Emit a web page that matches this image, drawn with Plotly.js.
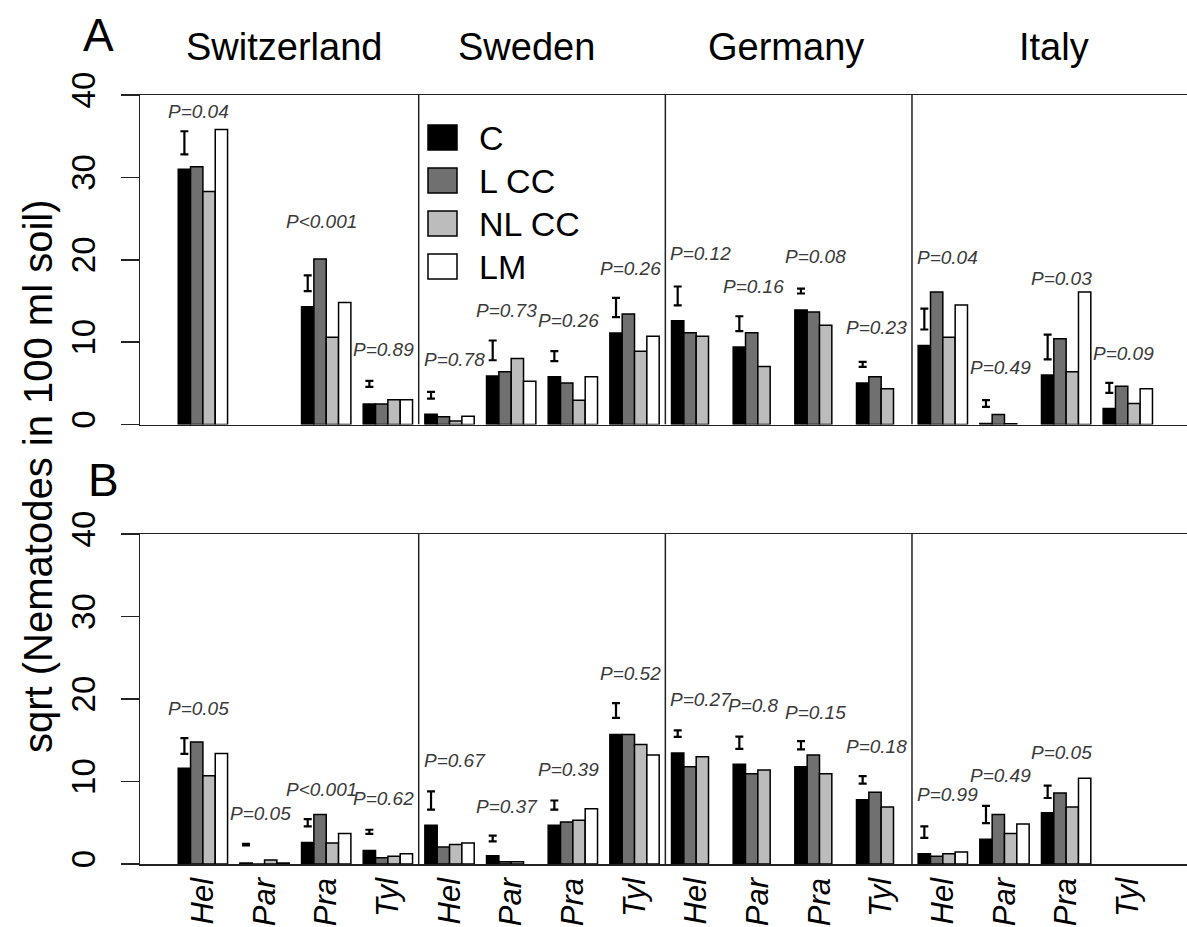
<!DOCTYPE html>
<html>
<head>
<meta charset="utf-8">
<script src="https://cdn.plot.ly/plotly-3.0.1.min.js"></script>
<style>html,body{margin:0;padding:0;background:#fff;}#chart{width:1187px;height:927px;}</style>
</head>
<body>
<div id="chart"></div>
<script>
// ---------------- data ----------------
const countries = ['Switzerland', 'Sweden', 'Germany', 'Italy'];
const nematodes = ['Hel', 'Par', 'Pra', 'Tyl'];
const treatments = ['C', 'L CC', 'NL CC', 'LM'];
const treatColors = ['#000000', '#707070', '#bcbcbc', '#ffffff'];

// Panel A (order: Switzerland Hel..Tyl, Sweden, Germany, Italy)
const A_C    = [31.0, null, 14.3, 2.5, 1.25, 5.9, 5.8, 11.1, 12.6, 9.4, 13.9, 5.05, 9.6, 0.12, 6.0, 1.95];
const A_LCC  = [31.3, null, 20.1, 2.5, 0.93, 6.4, 5.05, 13.4, 11.15, 11.15, 13.65, 5.8, 16.1, 1.2, 10.4, 4.65];
const A_NLCC = [28.3, null, 10.6, 3.0, 0.44, 8.0, 2.95, 8.9, 10.7, 7.05, 12.05, 4.35, 10.6, 0.1, 6.4, 2.55];
const A_LM   = [35.8, null, 14.8, 3.0, 1.0, 5.25, 5.8, 10.7, null, null, null, null, 14.5, null, 16.1, 4.35];
const A_errMid  = [34.2, null, 17.15, 4.93, 3.55, 9.0, 8.3, 14.2, 15.6, 12.24, 16.2, 7.3, 12.8, 2.55, 9.4, 4.45];
const A_errHalf = [1.4, null, 0.95, 0.37, 0.4, 1.2, 0.6, 1.17, 1.15, 0.9, 0.3, 0.3, 1.27, 0.4, 1.5, 0.6];
const A_pText = ['P=0.04', null, 'P<0.001', 'P=0.89', 'P=0.78', 'P=0.73', 'P=0.26', 'P=0.26',
                 'P=0.12', 'P=0.16', 'P=0.08', 'P=0.23', 'P=0.04', 'P=0.49', 'P=0.03', 'P=0.09'];
const A_pY = [38.0, null, 24.7, 9.1, 7.9, 13.85, 12.6, 18.95, 20.8, 16.8, 20.4, 11.8, 20.3, 6.95, 17.7, 8.6];

// Panel B
const B_C    = [11.6, 0.12, 2.6, 1.65, 4.7, 1.0, 4.7, 15.7, 13.45, 12.1, 11.8, 7.8, 1.25, 3.0, 6.2, null];
const B_LCC  = [14.8, 0, 6.0, 0.75, 2.05, 0.28, 5.1, 15.7, 11.8, 10.95, 13.2, 8.7, 0.93, 6.0, 8.6, null];
const B_NLCC = [10.7, 0.5, 2.55, 0.95, 2.35, 0.28, 5.3, 14.5, 13.0, 11.4, 10.95, 6.9, 1.25, 3.7, 6.9, null];
const B_LM   = [13.4, 0.12, 3.7, 1.25, 2.55, null, 6.7, 13.2, null, null, null, null, 1.45, 4.85, 10.4, null];
const B_errMid  = [14.3, 2.34, 5.0, 3.9, 7.7, 3.1, 7.15, 18.6, 15.8, 14.7, 14.4, 10.2, 3.86, 6.0, 8.75, null];
const B_errHalf = [0.95, 0.1, 0.45, 0.25, 1.1, 0.35, 0.55, 0.9, 0.4, 0.75, 0.5, 0.45, 0.7, 1.05, 0.75, null];
const B_pText = ['P=0.05', 'P=0.05', 'P<0.001', 'P=0.62', 'P=0.67', 'P=0.37', 'P=0.39', 'P=0.52',
                 'P=0.27', 'P=0.8', 'P=0.15', 'P=0.18', 'P=0.99', 'P=0.49', 'P=0.05', null];
const B_pY = [18.8, 6.1, 9.0, 8.0, 12.6, 7.0, 11.4, 23.1, 19.9, 19.2, 18.4, 14.3, 8.4, 10.7, 13.5, null];

// ---------------- build ----------------
const FONT = 'Liberation Sans, Arial, sans-serif';
const nG = countries.length * nematodes.length;
const xIdx = Array.from({length: nG}, (_, i) => i);
const tickText = [];
countries.forEach(() => nematodes.forEach(n => tickText.push('<i>' + n + '</i>')));

const panelA = [A_C, A_LCC, A_NLCC, A_LM];
const panelB = [B_C, B_LCC, B_NLCC, B_LM];
const traces = [];
function addPanel(series, xa, ya) {
  series.forEach((vals, k) => {
    traces.push({
      type: 'bar', x: xIdx, y: vals, xaxis: xa, yaxis: ya,
      name: treatments[k], showlegend: false, hoverinfo: 'y',
      marker: {color: treatColors[k], line: {color: '#000', width: 1.5}}
    });
  });
}
addPanel(panelA, 'x2', 'y2');
addPanel(panelB, 'x', 'y');

function addErr(mid, half, xa, ya) {
  traces.push({
    type: 'scatter', mode: 'markers', xaxis: xa, yaxis: ya, showlegend: false,
    x: xIdx.map(i => i - 0.3), y: mid,
    marker: {size: 1, color: 'rgba(0,0,0,0)'},
    error_y: {type: 'data', array: half, visible: true, color: '#000', thickness: 2.2, width: 4},
    hoverinfo: 'skip'
  });
}
addErr(A_errMid, A_errHalf, 'x2', 'y2');
addErr(B_errMid, B_errHalf, 'x', 'y');

// pixel -> paper helpers
const L = 140, T = 95, W = 1047, H = 769;
const px = v => (v - L) / W;
const py = v => (T + H - v) / H;

const annotations = [];
function addP(texts, ys, xa, ya) {
  texts.forEach((t, i) => {
    if (t === null) return;
    const first = (i % 4 === 0) && i > 0;
    annotations.push({
      xref: xa, yref: ya, x: first ? i - 0.45 : i - 0.07, y: ys[i],
      xanchor: first ? 'left' : 'center', yanchor: 'middle',
      text: '<i>' + t + '</i>', showarrow: false,
      font: {family: FONT, size: 19, color: '#3a3a3a'}
    });
  });
}
addP(A_pText, A_pY, 'x2', 'y2');
addP(B_pText, B_pY, 'x', 'y');

// country titles
const titleX = [1.32, 5.25, 9.45, 13.8];
countries.forEach((c, i) => annotations.push({
  xref: 'x2', yref: 'paper', x: titleX[i], y: py(47), xanchor: 'center', yanchor: 'middle',
  text: c, showarrow: false, font: {family: FONT, size: 38, color: '#000'}
}));
// panel letters
annotations.push({xref: 'paper', yref: 'paper', x: px(98), y: py(35), text: 'A', showarrow: false,
  xanchor: 'center', yanchor: 'middle', font: {family: FONT, size: 46, color: '#000'}});
annotations.push({xref: 'paper', yref: 'paper', x: px(103), y: py(480), text: 'B', showarrow: false,
  xanchor: 'center', yanchor: 'middle', font: {family: FONT, size: 46, color: '#000'}});
// y title
annotations.push({xref: 'paper', yref: 'paper', x: px(38), y: py(476), textangle: -90,
  text: 'sqrt (Nematodes in 100 ml soil)', showarrow: false, xanchor: 'center', yanchor: 'middle',
  font: {family: FONT, size: 40, color: '#000'}});

// legend (custom)
const shapes = [];
const legRows = [137.5, 180.5, 223.5, 266.5];
treatments.forEach((t, k) => {
  shapes.push({type: 'rect', xref: 'paper', yref: 'paper',
    x0: px(428), x1: px(457), y0: py(legRows[k] + 12.5), y1: py(legRows[k] - 12.5),
    fillcolor: treatColors[k], line: {color: '#000', width: 1.5}});
  annotations.push({xref: 'paper', yref: 'paper', x: px(477), y: py(legRows[k]), text: t,
    showarrow: false, xanchor: 'left', yanchor: 'middle', font: {family: FONT, size: 34, color: '#000'}});
});

// country dividers
[3.5, 7.5, 11.5].forEach(xv => {
  ['y', 'y2'].forEach(ya => shapes.push({type: 'line', xref: ya === 'y' ? 'x' : 'x2', yref: ya,
    x0: xv, x1: xv, y0: 0, y1: 40, line: {color: '#222', width: 1.5}}));
});

const yCommon = {
  range: [0, 40], tickvals: [0, 10, 20, 30, 40], ticks: 'outside', ticklen: 18, tickwidth: 1.5,
  tickcolor: '#222', tickangle: -90, showline: true, linecolor: '#222', linewidth: 1.5,
  showgrid: false, zeroline: false, ticklabelstandoff: 12,
  tickfont: {family: FONT, size: 33, color: '#000'}, fixedrange: true
};
const layout = {
  width: 1187, height: 927,
  margin: {l: L, r: 0, t: T, b: 927 - T - H},
  paper_bgcolor: '#fff', plot_bgcolor: '#fff',
  barmode: 'group', bargap: 0.2, bargroupgap: 0,
  showlegend: false,
  xaxis: {domain: [0, 1], anchor: 'y', range: [-1.02, 15.96], tickvals: xIdx, ticktext: tickText,
    tickangle: -90, ticks: '', showline: true, mirror: true, linecolor: '#222', linewidth: 1.5,
    showgrid: false, zeroline: false, tickfont: {family: FONT, size: 31, color: '#000'}, fixedrange: true},
  xaxis2: {domain: [0, 1], anchor: 'y2', matches: 'x', showticklabels: false, ticks: '',
    showline: true, mirror: true, linecolor: '#222', linewidth: 1.5, showgrid: false, zeroline: false, fixedrange: true},
  yaxis: Object.assign({domain: [0, py(534)], anchor: 'x'}, yCommon),
  yaxis2: Object.assign({domain: [py(424.5), 1], anchor: 'x2'}, yCommon),
  annotations: annotations,
  shapes: shapes
};
Plotly.newPlot('chart', traces, layout, {displayModeBar: false, staticPlot: true});
</script>
</body>
</html>
